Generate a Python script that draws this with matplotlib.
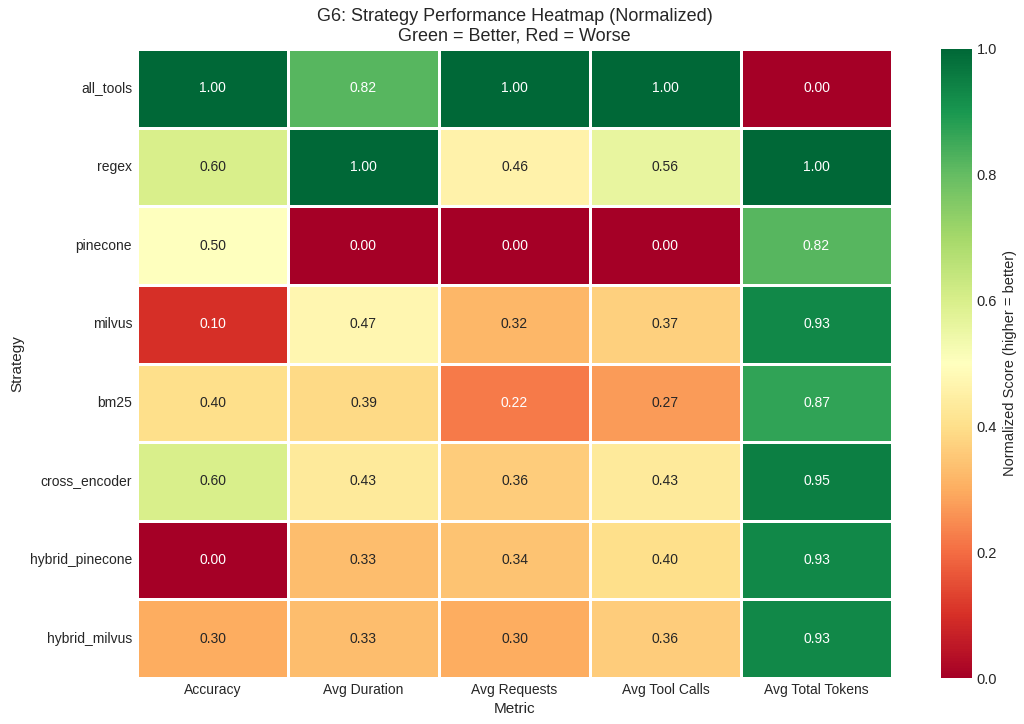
import matplotlib
matplotlib.use("Agg")
import matplotlib.pyplot as plt
import seaborn as sns
import pandas as pd

sns.set_style("whitegrid")
plt.rcParams["font.family"] = ["Liberation Sans", "DejaVu Sans"]

strategies = ["all_tools", "regex", "pinecone", "milvus", "bm25",
              "cross_encoder", "hybrid_pinecone", "hybrid_milvus"]
metrics = ["Accuracy", "Avg Duration", "Avg Requests", "Avg Tool Calls", "Avg Total Tokens"]

accuracy = [1.00, 0.60, 0.50, 0.10, 0.40, 0.60, 0.00, 0.30]
avg_duration = [0.82, 1.00, 0.00, 0.47, 0.39, 0.43, 0.33, 0.33]
avg_requests = [1.00, 0.46, 0.00, 0.32, 0.22, 0.36, 0.34, 0.30]
avg_tool_calls = [1.00, 0.56, 0.00, 0.37, 0.27, 0.43, 0.40, 0.36]
avg_total_tokens = [0.00, 1.00, 0.82, 0.93, 0.87, 0.95, 0.93, 0.93]

df = pd.DataFrame(
    {
        "Accuracy": accuracy,
        "Avg Duration": avg_duration,
        "Avg Requests": avg_requests,
        "Avg Tool Calls": avg_tool_calls,
        "Avg Total Tokens": avg_total_tokens,
    },
    index=strategies,
)[metrics]

W, H = 1024, 724
fig = plt.figure(figsize=(W / 100, H / 100), dpi=100)
# place axes in pixel terms to match the reference layout
ax = fig.add_axes([137 / W, (H - 678) / H, (892 - 137) / W, (678 - 49) / H])
cax = fig.add_axes([941 / W, (H - 678) / H, 31 / W, (678 - 49) / H])

sns.heatmap(
    df, annot=True, fmt=".2f", cmap="RdYlGn", vmin=0, vmax=1,
    linewidths=0.8, linecolor="white", ax=ax, cbar_ax=cax,
    cbar_kws={"label": "Normalized Score (higher = better)"},
    annot_kws={"fontsize": 10},
)
ax.set_title("G6: Strategy Performance Heatmap (Normalized)\nGreen = Better, Red = Worse", fontsize=13)
ax.set_xlabel("Metric", fontsize=11)
ax.set_ylabel("Strategy", fontsize=11)
ax.tick_params(axis="both", labelsize=10, length=0)
plt.setp(ax.get_xticklabels(), rotation=0)
plt.setp(ax.get_yticklabels(), rotation=0)
cax.tick_params(labelsize=10.5, length=0)
cax.yaxis.label.set_size(10.5)

plt.savefig("out.png", dpi=100)
